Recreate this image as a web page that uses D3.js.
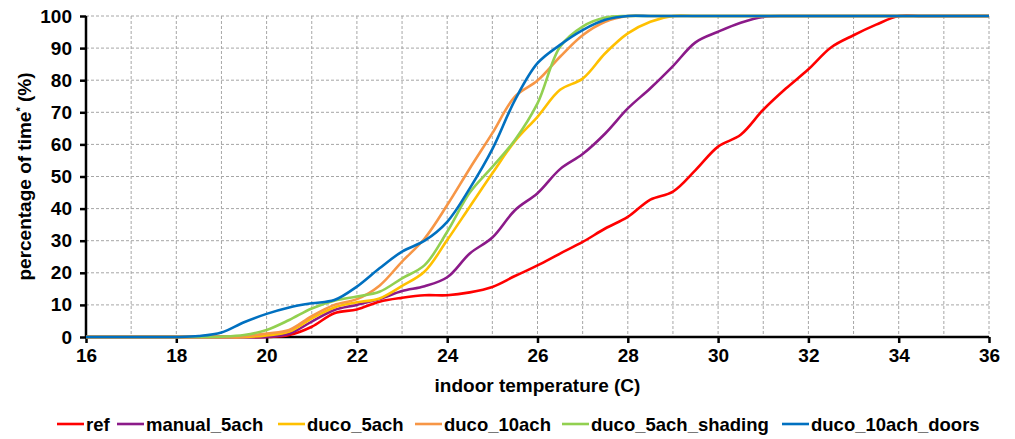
<!DOCTYPE html>
<html><head><meta charset="utf-8">
<script src="https://cdn.jsdelivr.net/npm/d3@7"></script>
<style>
html,body{margin:0;padding:0;background:#fff;}
text{font-family:"Liberation Sans",Arial,sans-serif;font-weight:bold;fill:#000;}
</style></head>
<body><svg id="c" width="1015" height="439"></svg>
<script>
const temps = d3.range(16, 36.01, 0.5);
const xTicks = [16,18,20,22,24,26,28,30,32,34,36];
const yTicks = [0,10,20,30,40,50,60,70,80,90,100];
const seriesNames = ["ref","manual_5ach","duco_5ach","duco_10ach","duco_5ach_shading","duco_10ach_doors"];
const seriesColors = ["#FF0000","#8B1A89","#FFC000","#F79646","#92D050","#0070C0"];
// values at 16,16.5,...,36
const ref =      [0,0,0,0,0,0,0,0,0, 0.6,3.2,7.4,8.6,11,12.2,13,13,13.9,15.6,19,22.3,26,29.6,33.8,37.4,42.8,45.3,52,59.3,63,70.8,77.4,83.4,90.2,94,97.3,100,100,100,100,100];
const manual5 =  [0,0,0,0,0,0,0,0,0, 1,4.8,8.4,10,11.8,14.3,15.8,18.6,26,31,39.5,44.8,52.3,57,63.4,71.2,77.5,84.4,91.8,95.1,97.9,99.7,100,100,100,100,100,100,100,100,100,100];
const duco5 =    [0,0,0,0,0,0,0,0,0.5, 1.7,5.8,9.2,10.8,12,15.9,20.4,30.2,40.6,51,61,68.6,77,80.5,88.4,94.6,98.2,100,100,100,100,100,100,100,100,100,100,100,100,100,100,100];
const duco10 =   [0,0,0,0,0,0,0,0.2,1.1, 2.2,6.5,10,11.8,16,23.5,30.7,41.1,52.5,63.5,74.9,79.9,87.3,94,98.2,100,100,100,100,100,100,100,100,100,100,100,100,100,100,100,100,100];
const shading =  [0,0,0,0,0,0,0.1,0.6,2.2, 5.3,8.9,11.3,12.6,14.1,18.3,22.4,32.8,45,53,61.4,72.8,90.4,96.7,99.5,100,100,100,100,100,100,100,100,100,100,100,100,100,100,100,100,100];
const doors =    [0,0,0,0,0,0.3,1.4,4.6,7.2, 9.2,10.5,11.5,15.7,21.4,26.6,30,35.9,46.3,58.5,73.8,85.3,91,95.6,98.8,100,100,100,100,100,100,100,100,100,100,100,100,100,100,100,100,100];
const seriesValues = [ref, manual5, duco5, duco10, shading, doors];

const svg = d3.select("#c");
const L = 86, R = 989, T = 16, B = 337;
const x = d3.scaleLinear().domain([16,36]).range([L,R]);
const y = d3.scaleLinear().domain([0,100]).range([B,T]);
const FS = "19px";

// grid
const g = svg.append("g");
g.selectAll("line.v").data(d3.range(17,36.5,1)).join("line")
  .attr("x1",d=>x(d)).attr("x2",d=>x(d)).attr("y1",T).attr("y2",B)
  .attr("stroke","#a6a6a6").attr("stroke-width",1).attr("stroke-dasharray","3,2");
g.selectAll("line.h").data(yTicks.slice(1)).join("line")
  .attr("x1",L).attr("x2",R).attr("y1",d=>y(d)).attr("y2",d=>y(d))
  .attr("stroke","#a6a6a6").attr("stroke-width",1).attr("stroke-dasharray","3,2");

// axes
const xa = svg.append("g").attr("transform",`translate(0,${B})`)
  .call(d3.axisBottom(x).tickValues(xTicks).tickSize(6).tickPadding(6).tickFormat(d3.format("d")));
const ya = svg.append("g").attr("transform",`translate(${L},0)`)
  .call(d3.axisLeft(y).tickValues(yTicks).tickSize(6).tickPadding(8).tickFormat(d3.format("d")));
[xa,ya].forEach(a=>{
  a.select(".domain").attr("stroke","#000").attr("stroke-width",2.5);
  a.selectAll(".tick line").attr("stroke","#000").attr("stroke-width",2.5);
  a.selectAll(".tick text").style("font-size",FS).style("font-family","'Liberation Sans',Arial,sans-serif").style("font-weight","bold").attr("fill","#000");
});
ya.select(".domain").attr("d",`M0,${B}V${T}`);
xa.select(".domain").attr("d",`M${L},0H${R}`);

// lines
const line = d3.line().x(d=>x(d[0])).y(d=>Math.max(y(100), Math.min(y(0), y(d[1])))).curve(d3.curveCatmullRom.alpha(0.5));
seriesValues.forEach((vals,i)=>{
  svg.append("path").datum(temps.map((t,j)=>[t,vals[j]]))
    .attr("d",line).attr("fill","none").attr("stroke",seriesColors[i])
    .attr("stroke-width",2.6).attr("stroke-linejoin","round");
});

// titles
svg.append("text").attr("x",(L+R)/2).attr("y",392).attr("text-anchor","middle")
  .style("font-size",FS).text("indoor temperature (C)");
const yt = svg.append("text").attr("transform",`translate(31,${(T+B)/2}) rotate(-90)`)
  .attr("text-anchor","middle").style("font-size",FS);
yt.append("tspan").text("percentage of time");
yt.append("tspan").attr("dy",-7).style("font-size","11px").text("*");
yt.append("tspan").attr("dy",7).text(" (%)");

// legend
const legX = [57,117,278,415,562,782];
const lg = svg.append("g");
seriesNames.forEach((n,i)=>{
  lg.append("line").attr("x1",legX[i]).attr("x2",legX[i]+27).attr("y1",424).attr("y2",424)
    .attr("stroke",seriesColors[i]).attr("stroke-width",2.6);
  lg.append("text").attr("x",legX[i]+29).attr("y",431).style("font-size","18.5px").text(n);
});
</script></body></html>
